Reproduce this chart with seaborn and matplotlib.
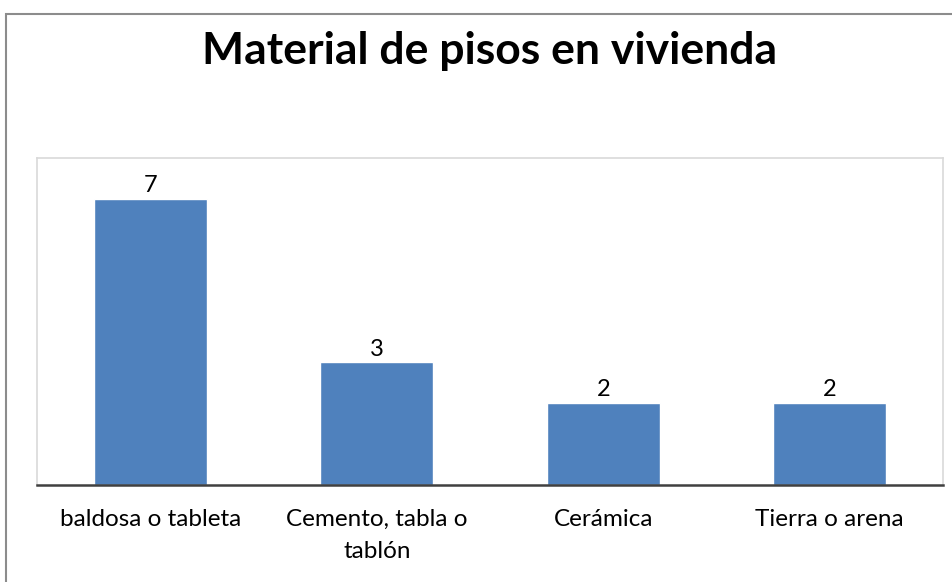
import matplotlib
matplotlib.use("Agg")
import matplotlib.pyplot as plt
import seaborn as sns
import pandas as pd
from matplotlib.patches import Rectangle

categories = ["baldosa o tableta", "Cemento, tabla o\ntablón", "Cerámica", "Tierra o arena"]
values = [7, 3, 2, 2]
title = "Material de pisos en vivienda"

sns.set_theme(style="white")
plt.rcParams['font.family'] = ['Lato', 'DejaVu Sans']
plt.rcParams['text.color'] = 'black'
plt.rcParams['xtick.color'] = 'black'

W, H = 953, 582
fig = plt.figure(figsize=(W / 100, H / 100), dpi=100)
ax = fig.add_axes([37 / W, 1 - 485 / H, (943 - 37) / W, (485 - 158) / H])

df = pd.DataFrame({"cat": categories, "val": values})
sns.barplot(data=df, x="cat", y="val", color="#4F81BD", saturation=1, width=0.5, ax=ax)

ax.set_ylim(0, 8)
ax.set_xlim(-0.5, len(categories) - 0.5)
ax.set_yticks([])
ax.set_xlabel("")
ax.set_ylabel("")
ax.tick_params(axis="x", length=0, pad=17, labelsize=17.5, labelcolor="black")
for lbl in ax.get_xticklabels():
    lbl.set_fontsize(17.5)
    lbl.set_linespacing(1.65)
    lbl.set_verticalalignment("top")

for s in ["left", "right", "top"]:
    ax.spines[s].set_color("#D9D9D9")
    ax.spines[s].set_linewidth(1.2)
ax.spines["bottom"].set_color("#404040")
ax.spines["bottom"].set_linewidth(1.8)

for c in ax.containers:
    ax.bar_label(c, fontsize=17, padding=2, color="black")

fig.text(0.5 * (199 + 780) / W, 1 - 51 / H, title, ha="center", va="center",
         fontsize=32, fontweight="bold", color="black")

fig.patches.append(Rectangle((6 / W, -0.1), 1.2, 1 - 14 / H + 0.1, transform=fig.transFigure,
                             fill=False, edgecolor="#8C8C8C", linewidth=1.5, clip_on=False))

fig.savefig("out.png", dpi=100)
